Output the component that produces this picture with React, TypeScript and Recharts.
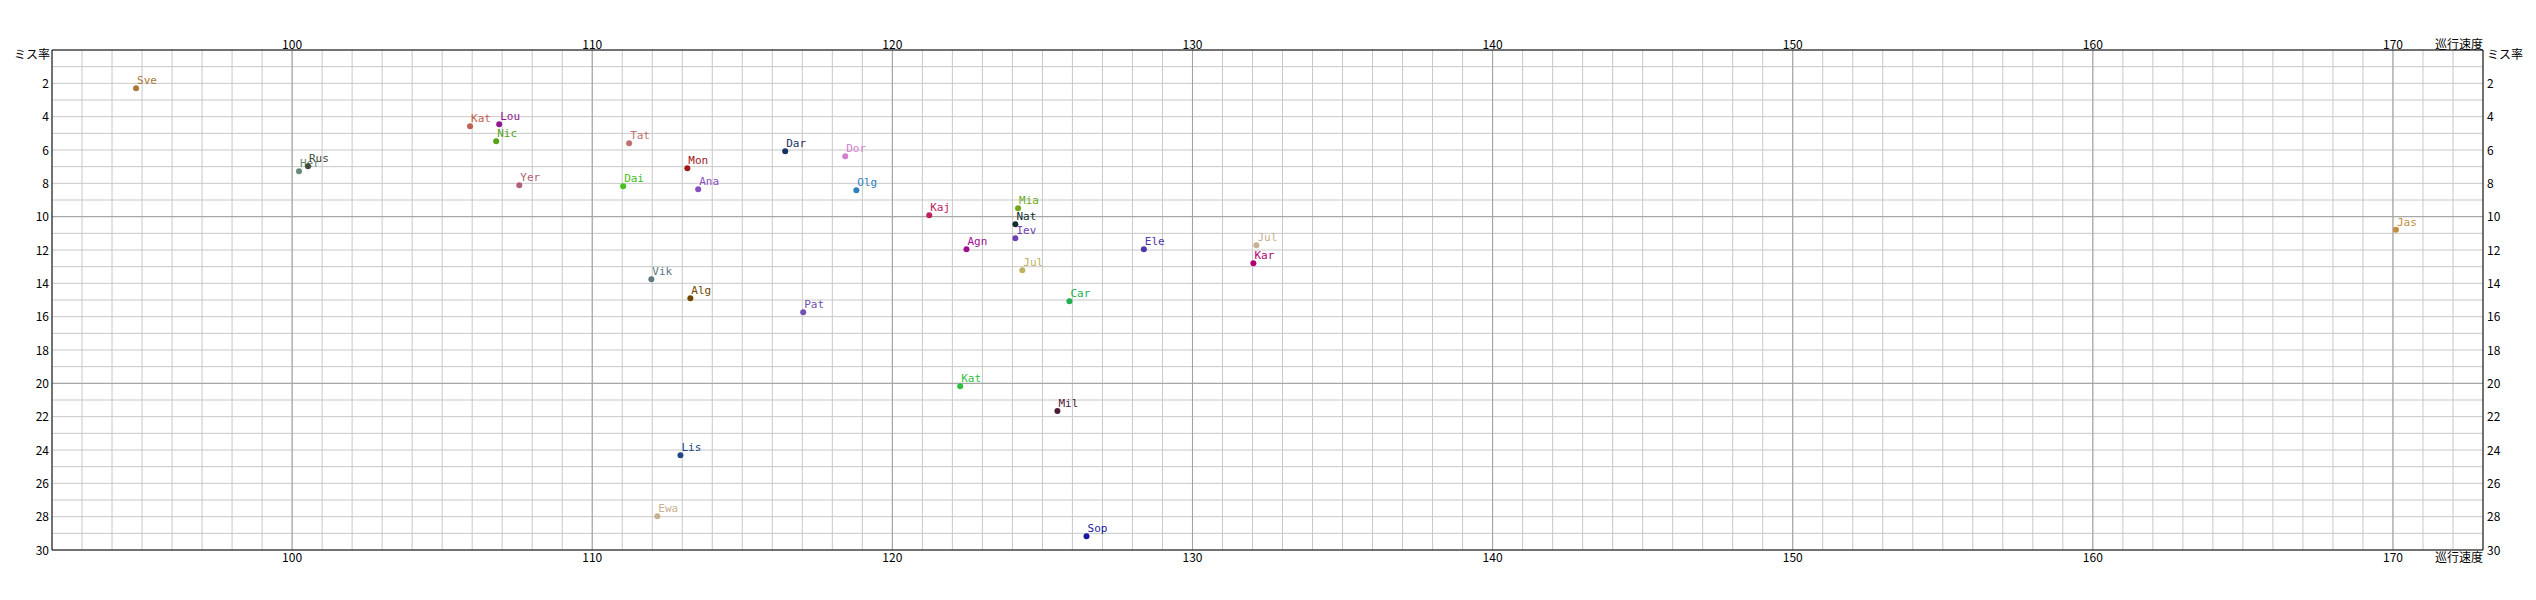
import { ScatterChart, Scatter, XAxis, YAxis, CartesianGrid, ReferenceLine } from "recharts";

// 33 typists: cruising speed (巡行速度) vs miss rate (ミス率)
const names = [
  "Sve", "Her", "Rus", "Kat", "Lou", "Nic", "Yer", "Tat", "Dai", "Mon", "Ana",
  "Dar", "Dor", "Olg", "Vik", "Alg", "Pat", "Kaj", "Agn", "Mia", "Nat", "Iev",
  "Jul", "Car", "Ele", "Jul", "Kar", "Jas", "Kat", "Mil", "Lis", "Ewa", "Sop",
];
const speeds = [
  94.8, 100.23, 100.53, 105.93, 106.9, 106.8, 107.57, 111.23, 111.03, 113.17, 113.53,
  116.43, 118.43, 118.8, 111.97, 113.27, 117.03, 121.23, 122.47, 124.19, 124.1, 124.1,
  124.33, 125.9, 128.38, 132.13, 132.03, 170.1, 122.26, 125.5, 112.94, 112.17, 126.47,
];
const missRates = [
  2.3, 7.28, 6.98, 4.58, 4.46, 5.48, 8.12, 5.6, 8.18, 7.1, 8.36,
  6.08, 6.38, 8.42, 13.76, 14.9, 15.74, 9.92, 11.96, 9.5, 10.46, 11.3,
  13.22, 15.08, 11.96, 11.72, 12.8, 10.78, 20.18, 21.66, 24.32, 27.98, 29.18,
];
const dotColors = [
  "#a87838", "#6a8a78", "#3c4c3c", "#c06050", "#901890", "#58a018", "#b06078", "#c07070", "#48c020", "#a01818", "#8850c0",
  "#183060", "#d080d0", "#3080c0", "#607880", "#704800", "#7050b0", "#c02060", "#a01090", "#70a818", "#103030", "#7040b0",
  "#c0b060", "#20b050", "#5038a8", "#c8b090", "#b00070", "#c09040", "#30c040", "#501838", "#204888", "#c8b090", "#1818a0",
];

const xMajor = [100, 110, 120, 130, 140, 150, 160, 170];
const yMajor = [10, 20];
const yLabels = [2, 4, 6, 8, 10, 12, 14, 16, 18, 20, 22, 24, 26, 28, 30];

const X_MIN = 92;
const X_MAX = 173;
const xGrid: number[] = [];
for (let v = X_MIN; v <= X_MAX; v++) xGrid.push(v);
const yGrid: number[] = [];
for (let v = 0; v <= 30; v++) yGrid.push(v);

const data = names.map((name, i) => ({ name, speed: speeds[i], miss: missRates[i], i }));

const FONT = "'Noto Sans CJK JP', sans-serif";
const MONO = "'DejaVu Sans Mono', monospace";

function PointShape(props: any) {
  const { cx, cy, payload } = props;
  const color = dotColors[payload.i];
  return (
    <g>
      <circle cx={cx} cy={cy} r={3} fill={color} />
      <text x={cx + 1} y={cy - 4} fill={color} fontSize={11} fontFamily={MONO}>
        {payload.name}
      </text>
    </g>
  );
}

const xTick = (side: "top" | "bottom") => (props: any) => {
  const { x, y, payload } = props;
  if (!xMajor.includes(payload.value)) return <g />;
  return (
    <text x={x} y={side === "top" ? y - 1 : y + 12} textAnchor="middle" fontSize={12} fontFamily={FONT} fill="#000">
      {payload.value}
    </text>
  );
};

const yTick = (side: "left" | "right") => (props: any) => {
  const { x, y, payload } = props;
  if (!yLabels.includes(payload.value)) return <g />;
  return (
    <text
      x={side === "left" ? x - 3 : x + 4}
      y={y + 4.5}
      textAnchor={side === "left" ? "end" : "start"}
      fontSize={12}
      fontFamily={FONT}
      fill="#000"
    >
      {payload.value}
    </text>
  );
};

const xTitle = (side: "top" | "bottom") => (props: any) => {
  const vb = props.viewBox;
  return (
    <text
      x={vb.x + vb.width}
      y={side === "top" ? vb.y + vb.height - 1 : vb.y + 12}
      textAnchor="end"
      fontSize={12}
      fontFamily={FONT}
      fill="#000"
    >
      巡行速度
    </text>
  );
};

const yTitle = (side: "left" | "right") => (props: any) => {
  const vb = props.viewBox;
  return (
    <text
      x={side === "left" ? vb.x + vb.width - 2 : vb.x + 4}
      y={vb.y + 9}
      textAnchor={side === "left" ? "end" : "start"}
      fontSize={12}
      fontFamily={FONT}
      fill="#000"
    >
      ミス率
    </text>
  );
};

export default function App() {
  return (
    <div style={{ position: "absolute", left: 0, top: 0, background: "#fff" }}>
      <ScatterChart width={2536} height={600} margin={{ top: 0, right: 0, bottom: 0, left: 0 }}>
        <CartesianGrid xAxisId="bottom" yAxisId="left" stroke="#c8c8c8" strokeWidth={1} />
        <XAxis
          xAxisId="bottom"
          dataKey="speed"
          type="number"
          orientation="bottom"
          domain={[X_MIN, X_MAX]}
          ticks={xGrid}
          interval={0}
          allowDataOverflow
          height={50}
          tickSize={0}
          tickMargin={0}
          tickLine={false}
          axisLine={{ stroke: "#000", strokeWidth: 1 }}
          tick={xTick("bottom")}
          label={xTitle("bottom")}
        />
        <XAxis
          xAxisId="top"
          dataKey="speed"
          type="number"
          orientation="top"
          domain={[X_MIN, X_MAX]}
          ticks={xGrid}
          interval={0}
          allowDataOverflow
          height={50}
          tickSize={0}
          tickMargin={0}
          tickLine={false}
          axisLine={{ stroke: "#000", strokeWidth: 1 }}
          tick={xTick("top")}
          label={xTitle("top")}
        />
        <YAxis
          yAxisId="left"
          dataKey="miss"
          type="number"
          orientation="left"
          domain={[0, 30]}
          reversed
          ticks={yGrid}
          interval={0}
          allowDataOverflow
          width={52}
          tickSize={0}
          tickMargin={0}
          tickLine={false}
          axisLine={{ stroke: "#000", strokeWidth: 1 }}
          tick={yTick("left")}
          label={yTitle("left")}
        />
        <YAxis
          yAxisId="right"
          dataKey="miss"
          type="number"
          orientation="right"
          domain={[0, 30]}
          reversed
          ticks={yGrid}
          interval={0}
          allowDataOverflow
          width={53}
          tickSize={0}
          tickMargin={0}
          tickLine={false}
          axisLine={{ stroke: "#000", strokeWidth: 1 }}
          tick={yTick("right")}
          label={yTitle("right")}
        />
        {xMajor.map((v) => (
          <ReferenceLine key={"x" + v} x={v} xAxisId="bottom" yAxisId="left" stroke="#a0a0a0" strokeWidth={1} />
        ))}
        {yMajor.map((v) => (
          <ReferenceLine key={"y" + v} y={v} xAxisId="bottom" yAxisId="left" stroke="#a0a0a0" strokeWidth={1} />
        ))}
        <Scatter
          data={data}
          xAxisId="bottom"
          yAxisId="left"
          shape={PointShape}
          isAnimationActive={false}
        />
      </ScatterChart>
    </div>
  );
}
